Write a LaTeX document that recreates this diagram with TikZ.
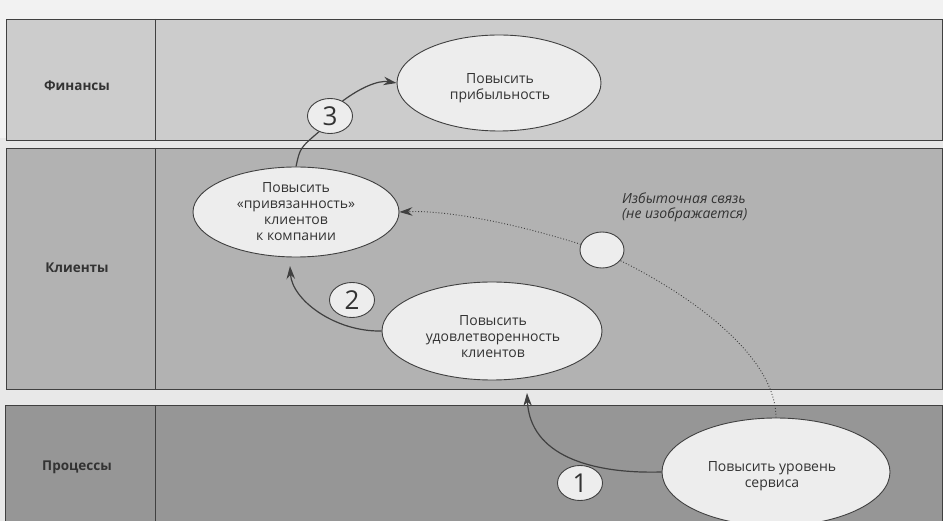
\documentclass[tikz,border=0pt]{standalone}
\usepackage{fontspec}
\setmainfont{Open Sans}
\usetikzlibrary{arrows.meta,shapes.geometric}
\definecolor{pagebg}{gray}{0.95}
\definecolor{gapbg}{gray}{0.91}
\definecolor{finc}{gray}{0.80}
\definecolor{clic}{gray}{0.70}
\definecolor{proc}{gray}{0.59}
\definecolor{goalfill}{gray}{0.93}
\definecolor{ink}{gray}{0.25}
\definecolor{txt}{gray}{0.2}
\tikzset{
  bandline/.style={draw=ink, line width=0.8pt},
  bandlabel/.style={font=\fontsize{13.5}{15}\selectfont\bfseries, text=txt},
  goal/.style={ellipse, draw=ink, line width=0.9pt, fill=goalfill, inner sep=0pt,
    align=center, text=txt, font=\fontsize{14}{16}\selectfont},
  goaltext/.style={align=center, text=txt, font=\fontsize{14}{16}\selectfont, inner sep=0pt},
  numc/.style={ellipse, draw=ink, line width=0.9pt, fill=goalfill, inner sep=0pt,
    text=txt, font=\fontsize{26}{28}\selectfont, minimum width=45pt, minimum height=35pt},
  conn/.style={draw=ink, line width=1.2pt},
  connarrow/.style={conn, -{Stealth[length=13pt,width=8.5pt]}},
  dotconn/.style={draw=ink, line width=0.9pt, dotted},
  note/.style={align=left, text=txt, font=\fontsize{14}{15}\selectfont\itshape, inner sep=0pt}
}
\begin{document}
\begin{tikzpicture}[x=1pt,y=-1pt]
\useasboundingbox (0,0) rectangle (943,521);
\fill[pagebg] (0,0) rectangle (943,521);
\fill[gapbg] (0,138) rectangle (943,521);
% bands
\draw[bandline, fill=finc] (6,19) rectangle (942,140);
\draw[bandline, fill=clic] (6,148) rectangle (942,389);
\draw[bandline, fill=proc] (5,405) rectangle (942,526);
\draw[bandline] (155,19) -- (155,140);
\draw[bandline] (155,148) -- (155,389);
\draw[bandline] (155,405) -- (155,521);
\node[bandlabel] (lf) at (77,86) {Финансы};
\node[bandlabel] (lc) at (77,268) {Клиенты};
\node[bandlabel] (lp) at (77,467) {Процессы};
% goals
\node[goal, minimum width=204pt, minimum height=96pt] (fin) at (499,83) {};
\node[goaltext] (fint) at (500,88) {Повысить\\прибыльность};
\node[goal, minimum width=206pt, minimum height=90pt] (loy) at (296,212) {Повысить\\«привязанность»\\клиентов\\к компании};
\node[goal, minimum width=220pt, minimum height=98pt] (sat) at (492,331) {};
\node[goaltext] (satt) at (493,337) {Повысить\\удовлетворенность\\клиентов};
\node[goal, minimum width=228pt, minimum height=108pt] (srv) at (776,472) {};
\node[goaltext] (srvt) at (772,476) {Повысить уровень\\сервиса};
\node[goal, minimum width=44pt, minimum height=36pt] (hid) at (602,250) {};
% number circles
\node[numc] (n3) at (330,116) {3};
\node[numc] (n2) at (352,300) {2};
\node[numc] (n1) at (580,483) {1};
% label
\node[note, anchor=west] (nt) at (622,207) {Избыточная связь\\(не изображается)};
% connectors
\coordinate (t2) at (290,266);
\coordinate (t1) at (527,393);
\draw[conn] (loy.north) .. controls (300,148) .. (n3.-125);
\draw[connarrow] (n3.50) .. controls (360,88) and (378,80) .. (fin.west);
\draw[connarrow] (sat.west) .. controls (335,332) and (292,300) .. (t2);
\draw[connarrow] (srv.west) .. controls (590,474) and (530,455) .. (t1);
\draw[dotconn] (srv.north) .. controls (776,360) and (700,300) .. (hid.-30);
\draw[dotconn, -{Stealth[length=13pt,width=8.5pt]}] (hid.165) .. controls (520,225) and (450,210) .. (loy.east);
\end{tikzpicture}
\end{document}
